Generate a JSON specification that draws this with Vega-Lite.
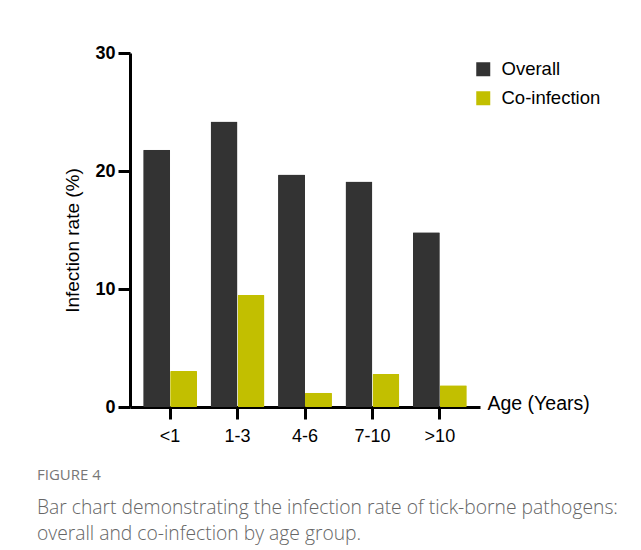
{
  "$schema": "https://vega.github.io/schema/vega-lite/v6.json",
  "width": 350,
  "height": 354,
  "autosize": {"type": "none"},
  "padding": {"left": 130, "top": 53, "right": 161, "bottom": 143},
  "background": "white",
  "title": {
    "text": "FIGURE 4",
    "subtitle": ["Bar chart demonstrating the infection rate of tick-borne pathogens:", "overall and co-infection by age group."],
    "orient": "bottom",
    "anchor": "start",
    "frame": "group",
    "dx": -93,
    "offset": 23,
    "font": "Open Sans",
    "fontSize": 15,
    "fontWeight": "normal",
    "color": "#777777",
    "subtitleFont": "Open Sans",
    "subtitleFontSize": 19.3,
    "subtitleFontWeight": 300,
    "subtitleColor": "#666666",
    "subtitleLineHeight": 26,
    "subtitlePadding": 16
  },
  "data": {
    "values": [
      {"age": "<1", "type": "Overall", "rate": 21.8},
      {"age": "<1", "type": "Co-infection", "rate": 3.05},
      {"age": "1-3", "type": "Overall", "rate": 24.2},
      {"age": "1-3", "type": "Co-infection", "rate": 9.5},
      {"age": "4-6", "type": "Overall", "rate": 19.7},
      {"age": "4-6", "type": "Co-infection", "rate": 1.2},
      {"age": "7-10", "type": "Overall", "rate": 19.1},
      {"age": "7-10", "type": "Co-infection", "rate": 2.8},
      {"age": ">10", "type": "Overall", "rate": 14.8},
      {"age": ">10", "type": "Co-infection", "rate": 1.85}
    ]
  },
  "mark": {"type": "bar", "cornerRadius": 1},
  "encoding": {
    "x": {
      "field": "age",
      "type": "nominal",
      "sort": ["<1", "1-3", "4-6", "7-10", ">10"],
      "scale": {"paddingInner": 0.2, "paddingOuter": 0.195},
      "axis": {
        "title": "Age (Years)",
        "titleFont": "Liberation Sans",
        "titleFontSize": 19.5,
        "titleFontWeight": "normal",
        "titleColor": "black",
        "titleAnchor": "start",
        "titleAlign": "left",
        "titleBaseline": "alphabetic",
        "titleX": 357,
        "titleY": 2,
        "labelAngle": 0,
        "labelFont": "Liberation Sans",
        "labelFontSize": 18,
        "labelColor": "black",
        "labelPadding": 8,
        "domainColor": "black",
        "domainWidth": 3,
        "tickColor": "black",
        "tickWidth": 3,
        "tickSize": 12,
        "grid": false
      }
    },
    "xOffset": {"field": "type", "type": "nominal", "sort": ["Overall", "Co-infection"]},
    "y": {
      "field": "rate",
      "type": "quantitative",
      "scale": {"domain": [0, 30], "nice": false},
      "axis": {
        "title": "Infection rate (%)",
        "values": [0, 10, 20, 30],
        "titleFont": "Liberation Sans",
        "titleFontSize": 19,
        "titleFontWeight": "normal",
        "titleColor": "black",
        "titleY": 187,
        "titlePadding": 12,
        "labelFont": "Liberation Sans",
        "labelFontSize": 18,
        "labelFontWeight": "bold",
        "labelColor": "black",
        "labelPadding": 3,
        "domainColor": "black",
        "domainWidth": 3,
        "tickColor": "black",
        "tickWidth": 3,
        "tickSize": 12,
        "grid": false
      }
    },
    "color": {
      "field": "type",
      "type": "nominal",
      "sort": ["Overall", "Co-infection"],
      "scale": {"domain": ["Overall", "Co-infection"], "range": ["#333333", "#c2bf00"]},
      "legend": {
        "title": null,
        "orient": "none",
        "legendX": 344,
        "legendY": 7,
        "symbolType": "square",
        "symbolSize": 196,
        "symbolStrokeWidth": 0,
        "symbolOpacity": 1,
        "labelFont": "Liberation Sans",
        "labelFontSize": 18.5,
        "labelColor": "black",
        "labelOffset": 9,
        "rowPadding": 10,
        "padding": 0
      }
    }
  },
  "config": {"view": {"stroke": null}}
}
